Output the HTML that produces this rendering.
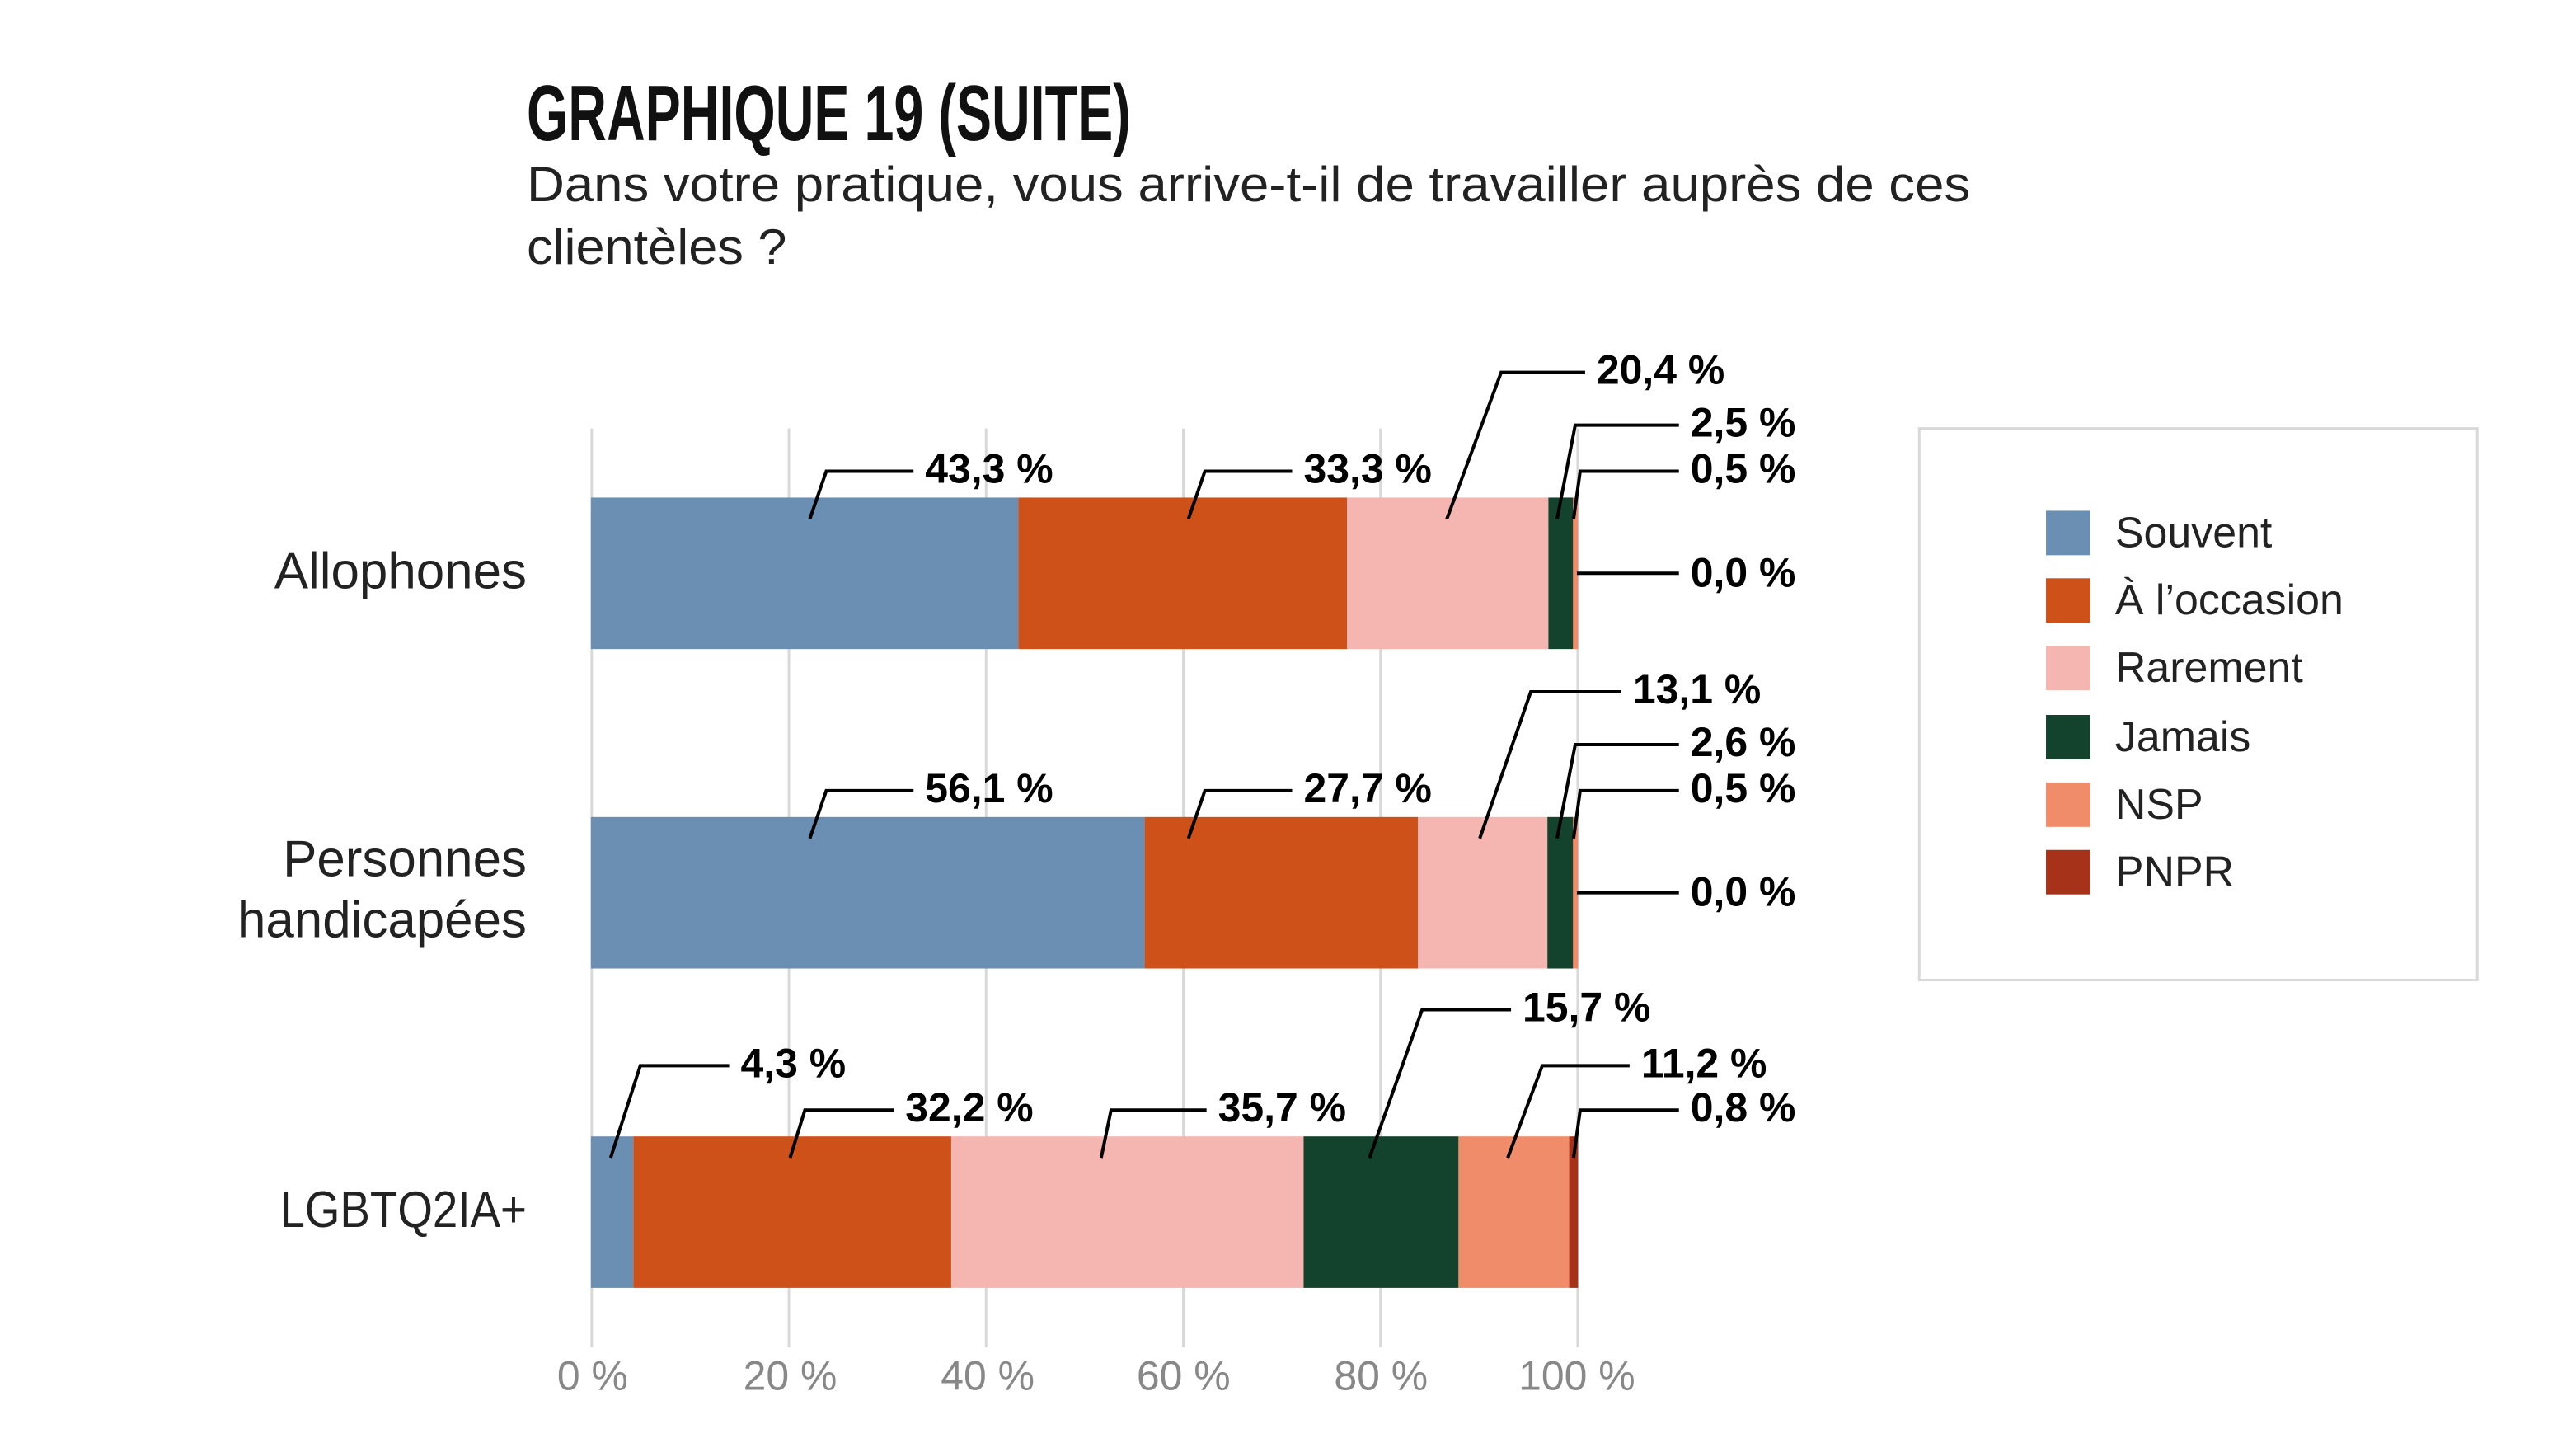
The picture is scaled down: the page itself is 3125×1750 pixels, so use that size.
<!DOCTYPE html>
<html><head><meta charset="utf-8"><style>
html,body{margin:0;padding:0;background:#fff}
svg{display:block}
text{font-family:"Liberation Sans",sans-serif}
</style></head><body>
<svg width="3125" height="1750" viewBox="0 0 1565 876" xmlns="http://www.w3.org/2000/svg">
<text x="320" y="85" font-size="48" font-weight="bold" textLength="367" lengthAdjust="spacingAndGlyphs" fill="#111">GRAPHIQUE 19 (SUITE)</text>
<text x="320" y="122" font-size="30" textLength="877" lengthAdjust="spacingAndGlyphs" fill="#222">Dans votre pratique, vous arrive-t-il de travailler auprès de ces</text>
<text x="320" y="160" font-size="30" textLength="158" lengthAdjust="spacingAndGlyphs" fill="#222">clientèles ?</text>
<g stroke="#d9d9d9" stroke-width="1.5">
<line x1="359.5" y1="260" x2="359.5" y2="818"/><line x1="479.3" y1="260" x2="479.3" y2="818"/><line x1="599.1" y1="260" x2="599.1" y2="818"/><line x1="718.9" y1="260" x2="718.9" y2="818"/><line x1="838.7" y1="260" x2="838.7" y2="818"/><line x1="958.5" y1="260" x2="958.5" y2="818"/>
</g>
<g font-size="25" fill="#888" text-anchor="middle">
<text x="360" y="844">0 %</text><text x="480" y="844">20 %</text><text x="600" y="844">40 %</text><text x="719" y="844">60 %</text><text x="839" y="844">80 %</text><text x="958" y="844">100 %</text>
</g>
<g>
<rect x="359" y="302" width="259.7" height="92" fill="#6b8fb3"/>
<rect x="618.7" y="302" width="199.7" height="92" fill="#cf511a"/>
<rect x="818.4" y="302" width="122.3" height="92" fill="#f5b5b0"/>
<rect x="940.7" y="302" width="15" height="92" fill="#13432c"/>
<rect x="955.7" y="302" width="3" height="92" fill="#f08c69"/>

<rect x="359" y="496" width="336.4" height="92" fill="#6b8fb3"/>
<rect x="695.4" y="496" width="166.1" height="92" fill="#cf511a"/>
<rect x="861.5" y="496" width="78.6" height="92" fill="#f5b5b0"/>
<rect x="940.1" y="496" width="15.6" height="92" fill="#13432c"/>
<rect x="955.7" y="496" width="3" height="92" fill="#f08c69"/>

<rect x="359" y="690" width="25.8" height="92" fill="#6b8fb3"/>
<rect x="384.8" y="690" width="193.1" height="92" fill="#cf511a"/>
<rect x="577.9" y="690" width="214.1" height="92" fill="#f5b5b0"/>
<rect x="792" y="690" width="94.1" height="92" fill="#13432c"/>
<rect x="886.1" y="690" width="67.2" height="92" fill="#f08c69"/>
<rect x="953.3" y="690" width="5.4" height="92" fill="#a6321a"/>
</g>
<g font-size="31" fill="#222" text-anchor="end">
<text x="320" y="357">Allophones</text>
<text x="320" y="532">Personnes</text>
<text x="320" y="569">handicapées</text>
<text x="320" y="745" textLength="150" lengthAdjust="spacingAndGlyphs">LGBTQ2IA+</text>
</g>
<g stroke="#000" stroke-width="2" fill="none">
<polyline points="492,315 502,286 555,286"/>
<polyline points="722,315 732,286 785,286"/>
<polyline points="879,315 912,226 963,226"/>
<polyline points="946,315 957,258 1020,258"/>
<polyline points="956,315 960,286 1020,286"/>
<polyline points="958,348 1020,348"/>
<polyline points="492,509 502,480 555,480"/>
<polyline points="722,509 732,480 785,480"/>
<polyline points="899,509 930,420 985,420"/>
<polyline points="946,509 957,452 1020,452"/>
<polyline points="956,509 960,480 1020,480"/>
<polyline points="958,542 1020,542"/>
<polyline points="371,703 389,647 443,647"/>
<polyline points="480,703 489,674 543,674"/>
<polyline points="669,703 675,674 733,674"/>
<polyline points="832,703 864,613 918,613"/>
<polyline points="916,703 937,647 990,647"/>
<polyline points="956,703 960,674 1020,674"/>
</g>
<g font-size="25" font-weight="bold" fill="#000">
<text x="562" y="293">43,3 %</text>
<text x="792" y="293">33,3 %</text>
<text x="970" y="233">20,4 %</text>
<text x="1027" y="265">2,5 %</text>
<text x="1027" y="293">0,5 %</text>
<text x="1027" y="356">0,0 %</text>
<text x="562" y="487">56,1 %</text>
<text x="792" y="487">27,7 %</text>
<text x="992" y="427">13,1 %</text>
<text x="1027" y="459">2,6 %</text>
<text x="1027" y="487">0,5 %</text>
<text x="1027" y="550">0,0 %</text>
<text x="450" y="654">4,3 %</text>
<text x="550" y="681">32,2 %</text>
<text x="740" y="681">35,7 %</text>
<text x="925" y="620">15,7 %</text>
<text x="997" y="654">11,2 %</text>
<text x="1027" y="681">0,8 %</text>
</g>
<rect x="1166" y="260" width="339" height="335" fill="#fff" stroke="#d9d9d9" stroke-width="1.5"/>
<g>
<rect x="1243" y="310" width="27" height="27" fill="#6b8fb3"/>
<rect x="1243" y="351" width="27" height="27" fill="#cf511a"/>
<rect x="1243" y="392" width="27" height="27" fill="#f5b5b0"/>
<rect x="1243" y="434" width="27" height="27" fill="#13432c"/>
<rect x="1243" y="475" width="27" height="27" fill="#f08c69"/>
<rect x="1243" y="516" width="27" height="27" fill="#a6321a"/>
</g>
<g font-size="26" fill="#222">
<text x="1285" y="332">Souvent</text>
<text x="1285" y="373">À l’occasion</text>
<text x="1285" y="414">Rarement</text>
<text x="1285" y="456">Jamais</text>
<text x="1285" y="497">NSP</text>
<text x="1285" y="538">PNPR</text>
</g>
</svg>
</body></html>
